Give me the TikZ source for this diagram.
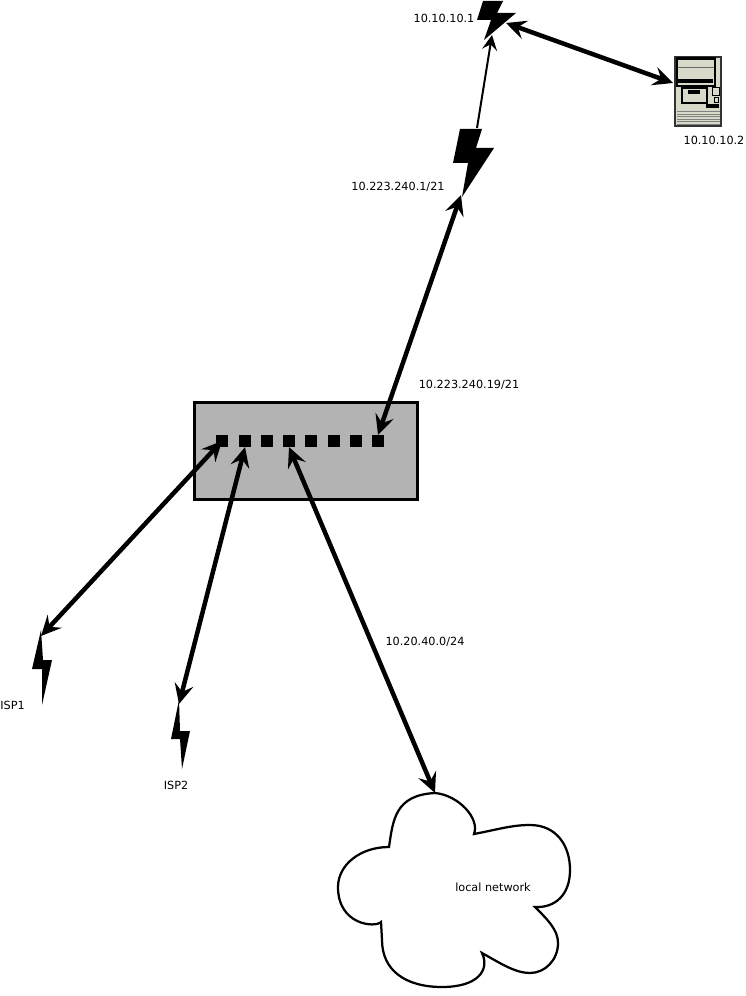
\documentclass[tikz,border=0pt]{standalone}
\usepackage{fontspec}
\setmainfont{DejaVu Sans}
\usetikzlibrary{arrows.meta}

\definecolor{boxgray}{HTML}{B3B3B3}
\definecolor{pcbeige}{HTML}{D9D9C9}
\tikzset{
    addr/.style={align=center, inner sep=0pt, font=\fontsize{6.4}{8}\selectfont},
    port/.style={fill=black, inner sep=0pt, minimum size=0.23cm},
    link/.style={line width=0.09cm, <->},
    bolt/.style={fill=black, draw=none},
    pcline/.style={draw=black, line width=0.02cm},
    >={Stealth[length=0.4cm, width=0.38cm, inset=0.15cm]}
}

\begin{document}
\begin{tikzpicture}[x=0.02cm, y=-0.02cm]
        \useasboundingbox (0,0) rectangle (745,996);

        % router box and its ports
        \node [draw, fill=boxgray, line width=0.06cm, minimum width=4.46cm, minimum height=1.96cm, inner sep=0pt] (router) at (306,451) {};
        \foreach \x [count=\i] in {222,245,267,289,311,334,356,378}
            \node [port] (port\i) at (\x,441) {};

        % lightning bolts
        \fill [bolt] (483,1) -- (503,1) -- (497,13) -- (516,13) -- (484,40) -- (491,20) -- (477,20) -- cycle;
        \fill [bolt] (460,129) -- (482,129) -- (476,148) -- (494,148) -- (462,197) -- (468,163) -- (453,163) -- cycle;
        \fill [bolt] (41,630) -- (32,669) -- (42,669) -- (42,705) -- (52,660) -- (43,660) -- cycle;
        \fill [bolt] (179,700) -- (171,739) -- (180,739) -- (182,769) -- (190,731) -- (180,731) -- cycle;

        % computer
        \draw [fill=pcbeige, line width=0.04cm, draw=black!80] (675,57) rectangle (721,126);
        \draw [pcline, line width=0.045cm] (677,58.5) rectangle (715,86);
        \draw [black!60, line width=0.02cm] (678,68) -- (714,68);
        \fill (678,79) rectangle (713,83);
        \draw [pcline, line width=0.035cm] (682,88) rectangle (707,103);
        \fill (688,90) rectangle (700,94);
        \draw [pcline] (712,88) rectangle (719,95.5);
        \draw [pcline] (714,98) rectangle (718,102.5);
        \fill (706,104) rectangle (719,108);
        \foreach \y in {112,114.5,117,119.5,122,124.5}
            \draw [black!50, line width=0.02cm] (677,\y) -- (720,\y);

        % cloud
        \draw [line width=0.045cm] (435,793) .. controls (458,795) and (480,818) .. (474,834)
            .. controls (500,829) and (512,825) .. (530,825)
            .. controls (556,825) and (570,845) .. (570,870)
            .. controls (570,895) and (555,908) .. (535,907)
            .. controls (548,920) and (558,930) .. (558,943)
            .. controls (558,960) and (545,973) .. (530,973)
            .. controls (515,973) and (500,963) .. (482,953)
            .. controls (490,970) and (478,987) .. (442,987)
            .. controls (405,987) and (382,970) .. (382,940)
            -- (381,922)
            .. controls (375,928) and (338,925) .. (338,887)
            .. controls (338,865) and (360,847) .. (389,847)
            .. controls (393,820) and (395,795) .. (435,793) -- cycle;

        % connector ends
        \coordinate (topbolt) at (506,23);
        \coordinate (topbolttip) at (492,35);
        \coordinate (bigbolttop) at (477,128);
        \coordinate (bigbolttip) at (461,195);
        \coordinate (pc) at (673,83);
        \coordinate (isp1) at (41,636);
        \coordinate (isp2) at (179,704);
        \coordinate (cloudtop) at (435,793);

        % links
        \draw [link] (topbolt) -- (pc);
        \draw [line width=0.04cm, ->, >={Stealth[length=0.3cm, width=0.3cm, inset=0.11cm]}] (bigbolttop) -- (topbolttip);
        \draw [link] (bigbolttip) -- (port8.north);
        \draw [link] (isp1) -- (port1.center);
        \draw [link] (isp2) -- (port2.south);
        \draw [link] (cloudtop) -- (port4.south);

        % labels
        \node [addr] (lbltop) at (444,18) {10.10.10.1};
        \node [addr] (lblpc) at (714,140) {10.10.10.2};
        \node [addr] (lblbolt) at (398,187) {10.223.240.1/21};
        \node [addr] (lblrouter) at (469,385) {10.223.240.19/21};
        \node [addr] (lbllan) at (425,642) {10.20.40.0/24};
        \node [addr] (lblisp1) at (12.5,705) {ISP1};
        \node [addr] (lblisp2) at (176,785) {ISP2};
        \node [addr] (lblcloud) at (493,887) {local network};
    \end{tikzpicture}
\end{document}
